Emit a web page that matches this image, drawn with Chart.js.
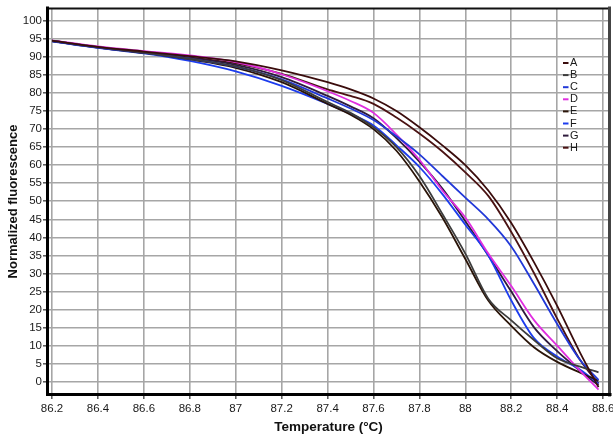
<!DOCTYPE html>
<html><head><meta charset="utf-8">
<script src="https://cdn.jsdelivr.net/npm/chart.js@4.4.1/dist/chart.umd.min.js"></script>
<style>html,body{margin:0;padding:0;background:#fff;}canvas{display:block;}</style>
</head><body>
<canvas id="c" width="613" height="437"></canvas>
<script>
// ---- data ----
const temps   = [86.2, 86.4, 86.6, 86.8, 87.0, 87.2, 87.4, 87.5, 87.6, 87.7, 87.8, 87.9, 88.0, 88.1, 88.2, 88.3, 88.4, 88.5, 88.58];
const seriesA = [94.5, 92.8, 91.5, 90.2, 88.8, 86.3, 83.0, 81.0, 78.5, 75.0, 70.5, 65.5, 60.0, 53.0, 44.0, 33.0, 21.0, 8.0, -1.5];
const seriesB = [94.5, 92.7, 91.2, 89.5, 87.4, 83.6, 77.5, 74.5, 70.5, 65.0, 57.0, 46.5, 35.5, 23.0, 17.0, 11.5, 6.5, 4.2, 2.6];
const seriesC = [94.4, 92.6, 91.2, 89.5, 87.3, 83.8, 78.5, 75.7, 72.5, 68.0, 63.0, 57.0, 51.0, 45.0, 37.5, 27.0, 16.0, 6.0, 0.5];
const seriesD = [94.6, 92.9, 91.6, 90.4, 88.6, 85.2, 80.5, 77.8, 74.5, 68.5, 61.5, 53.0, 45.5, 35.5, 26.5, 17.0, 10.0, 3.0, -2.2];
const seriesE = [94.4, 92.6, 91.1, 89.3, 87.0, 83.0, 77.0, 74.0, 70.0, 64.0, 55.5, 45.5, 34.0, 22.5, 15.5, 9.5, 5.5, 2.5, 0.3];
const seriesF = [94.3, 92.5, 91.0, 88.9, 86.0, 82.0, 77.0, 74.2, 71.0, 65.5, 59.5, 52.0, 43.5, 35.0, 22.5, 12.0, 7.0, 3.3, -0.5];
const seriesG = [94.5, 92.7, 91.3, 89.8, 87.8, 84.4, 79.2, 76.3, 73.0, 67.5, 61.0, 53.5, 44.5, 35.0, 25.0, 15.0, 8.5, 3.0, -1.0];
const seriesH = [94.4, 92.7, 91.4, 89.9, 88.2, 85.3, 81.0, 79.2, 77.0, 73.2, 68.8, 63.8, 58.0, 51.5, 41.5, 30.0, 17.5, 6.0, -0.5];
const seriesLabels = ['A', 'B', 'C', 'D', 'E', 'F', 'G', 'H'];
const xTickValues = [86.2, 86.4, 86.6, 86.8, 87.0, 87.2, 87.4, 87.6, 87.8, 88.0, 88.2, 88.4, 88.6];
const xTickLabels = ['86.2', '86.4', '86.6', '86.8', '87', '87.2', '87.4', '87.6', '87.8', '88', '88.2', '88.4', '88.6'];
const yTickValues = [0, 5, 10, 15, 20, 25, 30, 35, 40, 45, 50, 55, 60, 65, 70, 75, 80, 85, 90, 95, 100];
const xTitle = 'Temperature (°C)';
const yTitle = 'Normalized fluorescence';

// ---- styles ----
const seriesColors = ['#3a0c0c', '#3c3c3c', '#2138d8', '#e02ee0', '#2a1408', '#1c3cee', '#2e1a3c', '#4a1212'];
const allSeries = [seriesA, seriesB, seriesC, seriesD, seriesE, seriesF, seriesG, seriesH];

const datasets = allSeries.map((vals, i) => ({
  label: seriesLabels[i],
  data: vals.map((v, j) => ({x: temps[j], y: v})),
  borderColor: seriesColors[i],
  backgroundColor: seriesColors[i],
  borderWidth: 1.8,
  pointRadius: 0,
  fill: false,
  cubicInterpolationMode: 'monotone'
}));

const FONT = '"Liberation Sans", Arial, sans-serif';

const framePlugin = {
  id: 'frame',
  beforeDatasetsDraw(chart) {
    const {ctx, chartArea: a} = chart;
    ctx.save();
    ctx.lineCap = 'square';
    ctx.strokeStyle = '#111'; ctx.lineWidth = 2;
    ctx.beginPath(); ctx.moveTo(a.left, a.top + 0.5); ctx.lineTo(a.right, a.top + 0.5); ctx.stroke();
    ctx.strokeStyle = '#444'; ctx.lineWidth = 3;
    ctx.beginPath(); ctx.moveTo(a.right - 0.5, a.top); ctx.lineTo(a.right - 0.5, a.bottom); ctx.stroke();
    ctx.strokeStyle = '#000'; ctx.lineWidth = 3;
    ctx.beginPath(); ctx.moveTo(a.left + 0.5, a.top); ctx.lineTo(a.left + 0.5, a.bottom - 0.5); ctx.lineTo(a.right, a.bottom - 0.5); ctx.stroke();
    ctx.restore();
  }
};

const legendPlugin = {
  id: 'miniLegend',
  afterDraw(chart) {
    const {ctx} = chart;
    ctx.save();
    ctx.font = '11px ' + FONT;
    ctx.textBaseline = 'middle';
    ctx.textAlign = 'left';
    chart.data.datasets.forEach((ds, i) => {
      const y = 63 + i * 12.1;
      ctx.strokeStyle = ds.borderColor; ctx.lineWidth = 2;
      ctx.beginPath(); ctx.moveTo(563, y); ctx.lineTo(568.5, y); ctx.stroke();
      ctx.fillStyle = '#1a1a1a';
      ctx.fillText(ds.label, 570, y);
    });
    ctx.restore();
  }
};

new Chart(document.getElementById('c'), {
  type: 'line',
  data: {datasets},
  plugins: [framePlugin, legendPlugin],
  options: {
    responsive: false,
    devicePixelRatio: 1,
    animation: false,
    layout: {padding: {top: 7, right: 3, left: 0, bottom: 0}},
    plugins: {legend: {display: false}, tooltip: {enabled: false}},
    scales: {
      x: {
        type: 'linear',
        min: 86.178, max: 88.63,
        afterFit(s) { s.height = 42; s.paddingLeft = 0; s.paddingRight = 0; },
        afterBuildTicks(s) { s.ticks = xTickValues.map(v => ({value: v})); },
        ticks: {
          autoSkip: false, maxRotation: 0, padding: 3,
          color: '#1a1a1a', font: {size: 11.5, family: FONT},
          callback: (v) => { const k = xTickValues.findIndex(t => Math.abs(t - v) < 1e-6); return k >= 0 ? xTickLabels[k] : ''; }
        },
        grid: {color: '#a6a6a6', lineWidth: 1.6, drawTicks: true, tickLength: 4, tickColor: '#555', tickWidth: 1.5},
        border: {display: false},
        title: {display: true, text: xTitle, color: '#111', font: {size: 13.5, weight: 'bold', family: FONT}, padding: {top: 0, bottom: 2}}
      },
      y: {
        type: 'linear',
        min: -3.68, max: 103.59,
        afterFit(s) { s.width = 47; },
        afterBuildTicks(s) { s.ticks = yTickValues.map(v => ({value: v})); },
        ticks: {
          autoSkip: false, padding: 1,
          color: '#1a1a1a', font: {size: 11.5, family: FONT},
          callback: (v) => String(v)
        },
        grid: {color: '#a6a6a6', lineWidth: 1.6, drawTicks: true, tickLength: 4, tickColor: '#555', tickWidth: 1.5},
        border: {display: false},
        title: {display: true, text: yTitle, color: '#111', font: {size: 13, weight: 'bold', family: FONT}, padding: {top: 6, bottom: 0}}
      }
    }
  }
});
</script>
</body></html>
